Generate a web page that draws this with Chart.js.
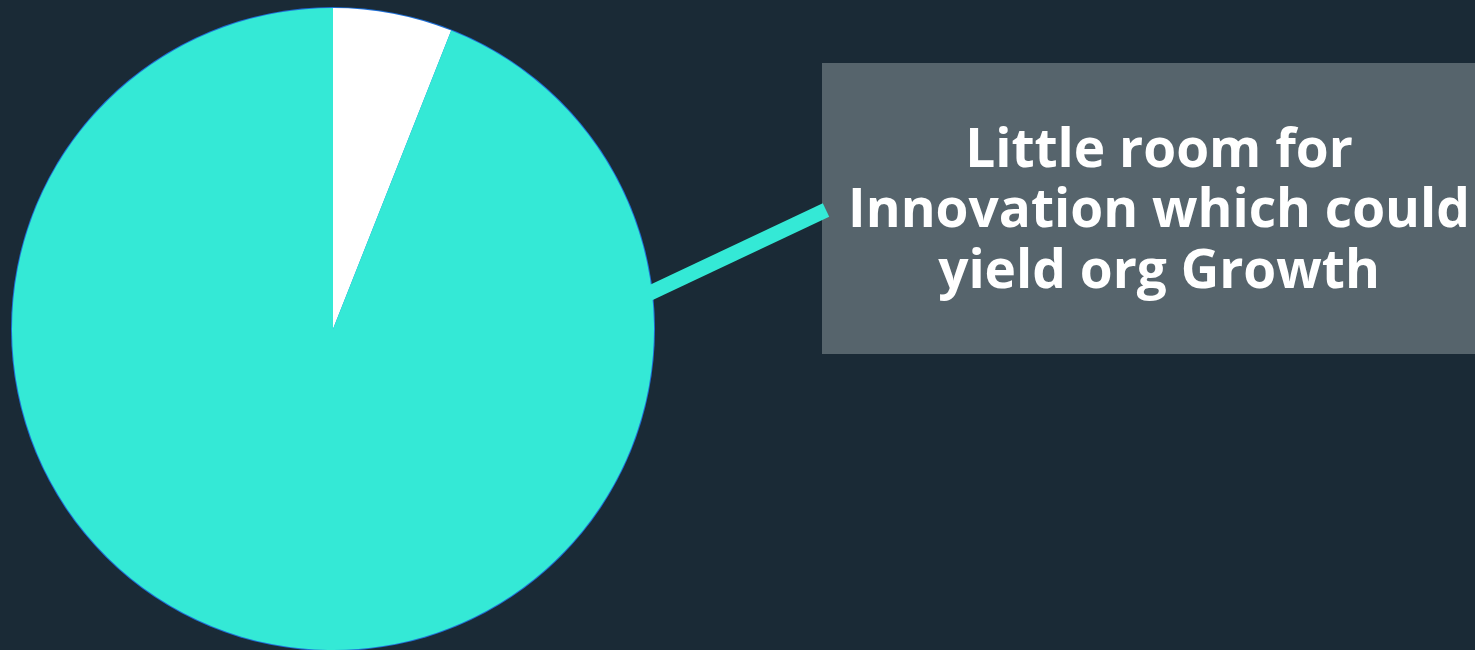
<!DOCTYPE html>
<html>
<head>
<meta charset="utf-8">
<script src="https://cdn.jsdelivr.net/npm/chart.js@4/dist/chart.umd.min.js"></script>
<style>
  html, body { margin: 0; padding: 0; background: #1a2a36; }
  #wrap { position: relative; width: 1475px; height: 650px; }
</style>
</head>
<body>
<div id="wrap"><canvas id="pieChart"></canvas></div>
<script>
// data
const labels = ['Innovation', 'Other'];
const values = [6, 94];
const sliceColors = ['#ffffff', '#34e9d6'];
const calloutLines = ['Little room for', 'Innovation which could', 'yield org Growth'];

// callout box + connector line
const calloutPlugin = {
  id: 'callout',
  beforeDatasetsDraw(chart) {
    const arc = chart.getDatasetMeta(0).data[1];
    const ctx = chart.ctx;
    // thin blue rim around the pie
    ctx.save();
    ctx.beginPath();
    ctx.arc(arc.x, arc.y, arc.outerRadius + 1, 0, Math.PI * 2);
    ctx.fillStyle = '#1f6fd6';
    ctx.fill();
    ctx.restore();
  },
  afterDraw(chart) {
    const ctx = chart.ctx;
    const arc = chart.getDatasetMeta(0).data[1];
    const boxX = 822, boxY = 63, boxW = chart.width - boxX, boxH = 291;

    ctx.save();
    ctx.fillStyle = '#56646c';
    ctx.fillRect(boxX, boxY, boxW, boxH);

    // connector from the pie edge to the box
    const ang = -6.4 * Math.PI / 180;
    const sx = arc.x + (arc.outerRadius - 3) * Math.cos(ang);
    const sy = arc.y + (arc.outerRadius - 3) * Math.sin(ang);
    ctx.strokeStyle = '#34e9d6';
    ctx.lineWidth = 15;
    ctx.lineCap = 'butt';
    ctx.beginPath();
    ctx.moveTo(sx, sy);
    ctx.lineTo(826, 210);
    ctx.stroke();

    // text
    ctx.fillStyle = '#ffffff';
    ctx.textAlign = 'center';
    ctx.textBaseline = 'alphabetic';
    let size = 50;
    ctx.font = 'bold ' + size + 'px "Open Sans"';
    const w = ctx.measureText(calloutLines[1]).width;
    size = size * 622 / w;
    ctx.font = 'bold ' + size + 'px "Open Sans"';
    const baselines = [167, 227, 288];
    calloutLines.forEach((line, i) => {
      ctx.fillText(line, 1159, baselines[i]);
    });
    ctx.restore();
  }
};

const ctx = document.getElementById('pieChart').getContext('2d');
new Chart(ctx, {
  type: 'pie',
  data: {
    labels: labels,
    datasets: [{
      data: values,
      backgroundColor: sliceColors,
      borderWidth: 0,
      hoverOffset: 0
    }]
  },
  options: {
    responsive: true,
    maintainAspectRatio: false,
    animation: false,
    layout: { padding: { left: 12, right: 821, top: 8, bottom: 0 } },
    plugins: {
      legend: { display: false },
      tooltip: { enabled: false }
    }
  },
  plugins: [calloutPlugin]
});
document.getElementById('wrap').style.height = '650px';
</script>
</body>
</html>
